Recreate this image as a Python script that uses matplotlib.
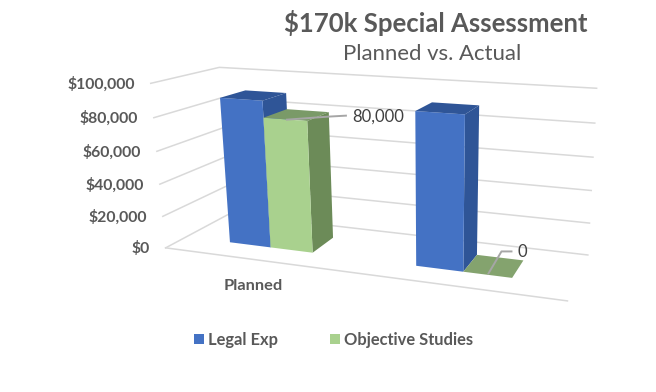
import numpy as np
import matplotlib
matplotlib.use("Agg")
import matplotlib.pyplot as plt
from matplotlib.patches import Polygon, Rectangle

# data
categories = ["Planned", ""]
legal_exp = [90000, 90000]
objective_studies = [80000, 0]
ticks = [0, 20000, 40000, 60000, 80000, 100000]
tick_labels = ["$0", "$20,000", "$40,000", "$60,000", "$80,000", "$100,000"]
series_names = ["Legal Exp", "Objective Studies"]

C_TEXT = "#595959"
C_GRID = "#d9d9d9"
BLUE = ("#4472c4", "#2f5597", "#2f5597")     # front, side, top
GREEN = ("#a9d18e", "#6c8b58", "#7a9a68")
GREEN_FLAT = "#84a36e"

plt.rcParams["font.family"] = ["Lato", "DejaVu Sans"]
plt.rcParams["text.parse_math"] = False

fig = plt.figure(figsize=(6.56, 3.92), dpi=100)
ax = fig.add_axes([0, 0, 1, 1])
ax.set_xlim(0, 656)
ax.set_ylim(392, 0)
ax.axis("off")

# the 3d box: (across, value, depth) in 0..1 -> pixel, fitted on the box corners
box_3d = [(0, 1, 0), (0, 1, 1), (1, 1, 1), (1, 0, 1), (0, 0, 0), (1, 0, 0), (0, 0, 1)]
box_px = [(153, 84), (217, 67), (597, 88), (587, 256), (163, 248), (568, 300), (232, 213.5)]
A, b = [], []
for (x, y, z), (px, py) in zip(box_3d, box_px):
    A.append([x, y, z, 1, 0, 0, 0, 0, -px * x, -px * y, -px * z])
    A.append([0, 0, 0, 0, x, y, z, 1, -py * x, -py * y, -py * z])
    b += [px, py]
cam = np.append(np.linalg.lstsq(np.array(A, float), np.array(b, float), rcond=None)[0], 1).reshape(3, 4)


def proj(u, val, w):
    h = cam @ np.array([u, val / 100000, w, 1.0])
    return h[0] / h[2], h[1] / h[2]


def bar3d(u0, u1, val, cols, w0=0.3, w1=0.7):
    if val == 0:
        pts = [proj(u0, 0, w0), proj(u1, 0, w0), proj(u1, 0, w1), proj(u0, 0, w1)]
        ax.add_patch(Polygon(pts, fc=GREEN_FLAT, ec="none", zorder=3))
        return
    top = [proj(u0, val, w0), proj(u1, val, w0), proj(u1, val, w1), proj(u0, val, w1)]
    side = [proj(u1, 0, w0), proj(u1, val, w0), proj(u1, val, w1), proj(u1, 0, w1)]
    front = [proj(u0, 0, w0), proj(u1, 0, w0), proj(u1, val, w0), proj(u0, val, w0)]
    ax.add_patch(Polygon(top, fc=cols[2], ec="none", zorder=3))
    ax.add_patch(Polygon(side, fc=cols[1], ec="none", zorder=3))
    ax.add_patch(Polygon(front, fc=cols[0], ec="none", zorder=3))


# walls
for t, lab in zip(ticks, tick_labels):
    line = [proj(0, t, 0), proj(0, t, 1), proj(1, t, 1)]
    ax.plot(*zip(*line), color=C_GRID, lw=1.1, zorder=1)
    tx, ty = proj(0, t, 0)
    ax.text(tx - 16, ty + 1, lab, ha="right", va="center", fontsize=11.3,
            fontweight="bold", color=C_TEXT)
ax.plot(*zip(proj(0, 0, 0), proj(1, 0, 0)), color=C_GRID, lw=1.1, zorder=1)

# bars
bar_w = 0.1155
c0 = 0.2435
for i, cat in enumerate(categories):
    c = c0 + i * 0.5
    bar3d(c - bar_w, c, legal_exp[i], BLUE)
    bar3d(c, c + bar_w, objective_studies[i], GREEN)
    ax.text(253.5 + i * 195, 285.5, cat, ha="center", va="center", fontsize=11.8,
            fontweight="bold", color=C_TEXT)

# data labels with leader lines
x0, y0 = proj(c0 + bar_w / 2, objective_studies[0], 0.33)
ax.plot([x0, x0 + 41, x0 + 59], [y0 + 1, y0 - 2, y0 - 3], color="#a6a6a6", lw=1.4, zorder=4)
ax.text(x0 + 65.5, y0 - 2, f"{objective_studies[0]:,}", ha="left", va="center",
        fontsize=12, color="#404040", zorder=5)
x1, y1 = proj(c0 + 0.5 + bar_w / 2, objective_studies[1], 0.33)
ax.plot([x1, x1 + 13, x1 + 23], [y1, y1 - 22, y1 - 22], color="#a6a6a6", lw=1.4, zorder=4)
ax.text(x1 + 29, y1 - 21, f"{objective_studies[1]:,}", ha="left", va="center",
        fontsize=12, color="#404040", zorder=5)

# title
ax.text(435.5, 23, "$170k Special Assessment", ha="center", va="center", fontsize=18.5,
        fontweight="bold", color=C_TEXT)
ax.text(432.5, 54, "Planned vs. Actual", ha="center", va="center", fontsize=15.9, color=C_TEXT)

# legend
for lx, col, name in zip([194, 330], [BLUE[0], GREEN[0]], series_names):
    ax.add_patch(Rectangle((lx, 334), 10, 10, fc=col, ec="none"))
    ax.text(lx + 14, 339.5, name, ha="left", va="center", fontsize=11.9,
            fontweight="bold", color=C_TEXT)

fig.savefig("out.png", dpi=100, facecolor="white")
